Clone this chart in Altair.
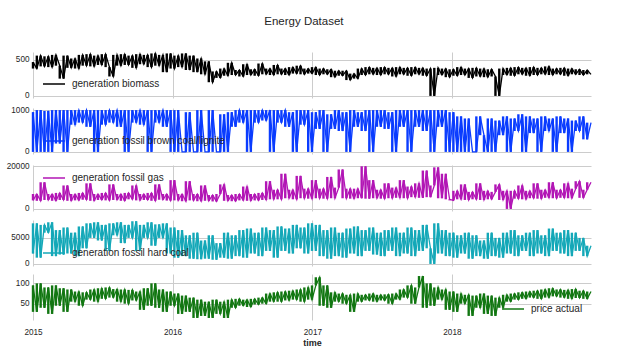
import altair as alt
import pandas as pd

# ---- data (one value every 10 days) ----
dates = pd.date_range("2015-01-01", periods=147, freq="10D").strftime("%Y-%m-%d").tolist()
years = [2015, 2016, 2017, 2018]

biomass = [470,380,560,410,550,400,570,420,240,560,390,520,380,570,420,580,410,560,430,580,400,270,570,420,580,430,560,390,580,440,570,400,590,420,570,330,590,
           380,560,400,590,360,560,330,520,300,480,190,340,250,380,280,460,290,360,270,440,290,370,280,450,300,380,290,430,300,380,290,400,310,420,300,380,310,
           400,290,380,300,370,260,350,280,350,220,310,240,380,290,400,300,390,290,400,300,390,270,400,300,390,280,400,300,390,280,380,0,390,290,380,260,
           370,280,400,290,380,250,390,270,380,260,370,270,0,380,290,390,280,400,300,390,280,400,290,390,300,410,290,380,300,390,280,380,300,370,290,360,300]

brown_coal = [950,0,1000,0,980,0,1000,200,1000,0,1000,650,1000,700,1000,600,1000,0,1000,650,1000,700,1000,600,1000,0,1000,700,1000,650,1000,0,1000,700,1000,600,1000,
              0,1000,0,0,950,0,0,1000,0,0,1000,0,0,900,0,950,600,1000,700,1000,0,1000,700,1000,750,1000,0,1000,700,1000,600,950,0,1000,650,1000,0,
              950,550,1000,0,900,550,1000,500,950,0,1000,600,950,500,1000,0,1000,600,1000,550,950,0,1000,600,1000,0,1000,600,1000,500,1000,0,1000,600,1000,0,
              950,0,850,0,800,0,0,850,400,0,800,0,750,400,850,0,800,500,900,0,850,450,800,0,850,500,800,0,850,450,800,0,750,500,850,300,700]

fossil_gas = [4000,7000,3800,12500,4200,7000,3800,7500,4200,11000,3800,7000,4000,7500,4300,12000,3800,7000,4200,7500,4000,11500,4200,7000,3800,7500,4500,11000,4000,7000,4200,7500,3800,11500,4300,7000,3900,
              13500,4000,7000,3600,13000,4000,7000,3600,11000,3800,6500,3500,7000,11500,3800,6500,3600,7000,4000,10500,3800,7000,4000,7500,4200,13000,4500,9000,4500,16500,5000,9000,4500,15500,5000,9500,4800,
              13500,5000,9500,4800,15000,5000,10000,18500,5000,9500,4800,9500,5000,20000,4800,13500,5000,9000,4800,12000,5000,10000,5200,13500,5000,10500,5500,12000,5200,18000,5500,11000,19500,5000,16500,4500,
              4000,8500,4500,11500,4200,8000,4500,12000,4200,8500,4500,8000,11500,4200,8500,0,8500,4800,11000,4500,8500,5000,12000,4800,9000,5200,12500,5000,9000,5200,12000,5000,9500,13000,5200,9000,12500]

hard_coal = [2000,7800,1200,7500,6000,8000,1500,6500,1800,7000,2000,6000,1500,7200,3000,7800,5000,8000,4500,7500,2500,7800,5500,8000,4000,7500,5000,8200,2500,7500,5000,8000,3500,7600,5000,7800,2000,
             7000,1200,6500,1500,5500,1000,6000,900,4500,1000,5500,800,4000,1200,6000,1000,5500,1500,6500,1200,6800,2000,6000,1500,7000,2500,6500,1200,7200,2500,6800,2000,7500,3000,7000,2000,7800,
             2500,7500,1500,6500,1000,7000,1500,6000,1200,6800,2000,7200,1500,6500,2500,7000,1800,6000,1500,6500,2500,7000,1500,6000,2000,7000,1500,6500,2500,7500,3000,0,7800,2000,6500,1500,
             6000,1200,5500,2000,6000,1000,5500,1500,4500,1000,6000,1500,5000,1200,6000,2000,6500,1500,5500,2500,6000,1500,6500,2000,5500,1500,6800,2500,6000,2000,6500,1500,6000,2500,5000,1500,3500]

price = [95,30,100,40,90,25,95,45,88,30,85,55,80,45,78,60,85,55,88,62,90,65,86,55,85,50,84,58,80,35,88,45,100,40,85,30,80,
         45,75,25,70,30,65,15,60,20,55,15,60,25,55,15,60,40,62,45,60,42,62,48,65,50,75,55,78,55,80,58,82,60,85,55,90,60,
         95,115,45,95,40,78,55,75,50,72,30,75,55,72,58,75,55,72,58,73,50,75,60,85,65,95,50,90,118,40,100,45,90,60,85,35,
         80,30,75,50,72,20,70,40,75,25,70,20,65,40,72,55,75,60,78,62,80,65,82,62,85,65,88,68,85,65,84,62,86,64,82,62,80]

series_names = ["generation biomass", "generation fossil brown coal/lignite",
                "generation fossil gas", "generation fossil hard coal", "price actual"]
series_values = [biomass, brown_coal, fossil_gas, hard_coal, price]
series_colors = ["#000000", "#0a3cff", "#b216b5", "#14a8b8", "#127712"]
y_domains = [[-29, 610], [-50, 1050], [-980, 20600], [-400, 8440], [10, 123]]
y_ticks = [[0, 500], [0, 1000], [0, 20000], [0, 5000], [50, 100]]
legend_pos = [(9, 20), (9, 21), (9, 1), (9, 21), (468, 23)]

FONT = "Liberation Sans"
TXT = "#262626"
GRID = "#cccccc"
W, H = 558, 46

x_vals = [alt.DateTime(year=y, month=1, date=1, utc=True) for y in years]
x_dom = [alt.DateTime(year=2015, month=1, date=1, utc=True),
         alt.DateTime(year=2018, month=12, date=31, utc=True)]


def panel(k, last):
    vals = series_values[k]
    nxt = vals[1:] + vals[-1:]
    df = pd.DataFrame({"time": dates, "value": vals, "next": nxt, "series": series_names[k]})
    if last:
        xaxis = alt.Axis(values=x_vals, format="%Y", grid=True, labelPadding=8,
                         labelFlush=False, titleFont=FONT, titleFontSize=9,
                         titleFontWeight="bold", titleColor=TXT, titlePadding=3)
        xtitle = "time"
    else:
        xaxis = alt.Axis(values=x_vals, labels=False, grid=True)
        xtitle = None
    lx, ly = legend_pos[k]
    x = alt.X("time:T", title=xtitle, axis=xaxis,
              scale=alt.Scale(type="utc", domain=x_dom, nice=False))
    y = alt.Y("value:Q", title=None,
              axis=alt.Axis(values=y_ticks[k], format="d", labelPadding=4),
              scale=alt.Scale(domain=y_domains[k], nice=False, zero=False))
    base = alt.Chart(df)
    swing = base.mark_rule(strokeWidth=2.4, color=series_colors[k]).encode(
        x=x, y=y, y2="next:Q")
    line = base.mark_line(strokeWidth=1.3).encode(
        x=x, y=y,
        color=alt.Color("series:N",
                        scale=alt.Scale(domain=[series_names[k]], range=[series_colors[k]]),
                        legend=alt.Legend(orient="none", legendX=lx, legendY=ly, title=None,
                                          symbolType="stroke", symbolSize=484,
                                          symbolStrokeWidth=1.5, labelFont=FONT,
                                          labelFontSize=10, labelColor=TXT,
                                          labelOffset=6, padding=0)),
    )
    return alt.layer(swing, line).properties(width=W, height=H)


chart = alt.vconcat(
    *[panel(k, k == 4) for k in range(5)], spacing=5
).resolve_scale(
    y="independent", color="independent"
).properties(
    title=alt.TitleParams("Energy Dataset", font=FONT, fontSize=11.5, color=TXT,
                          fontWeight="normal", anchor="middle", offset=23, dx=4),
    padding={"left": 6, "top": 16, "right": 5, "bottom": 5},
).configure_view(
    strokeWidth=0
).configure_axis(
    labelFont=FONT, labelFontSize=8.2, labelColor=TXT, gridColor=GRID,
    gridWidth=1, domain=False, ticks=False
)

chart.save("out.html", embed_options={"renderer": "svg", "actions": False})
